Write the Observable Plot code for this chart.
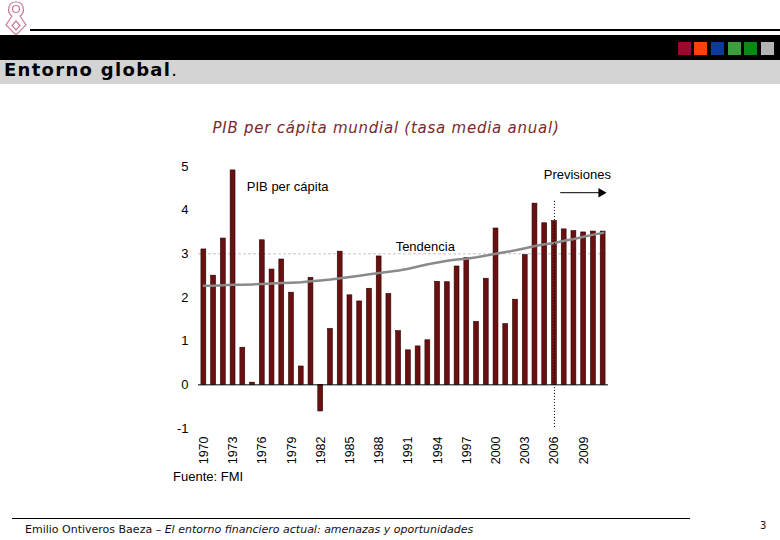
<!DOCTYPE html>
<html><head><meta charset="utf-8">
<script src="https://cdn.jsdelivr.net/npm/d3@7"></script>
<script src="https://cdn.jsdelivr.net/npm/@observablehq/plot@0.6"></script>
<style>
body{margin:0;width:780px;height:540px;position:relative;background:#fff;overflow:hidden;font-family:"Liberation Sans",Arial,sans-serif}
.abs{position:absolute}
.sq{position:absolute;top:42px;width:13px;height:13px}
</style></head><body>
<svg class="abs" style="left:3px;top:1px" width="26" height="36" viewBox="0 0 26 36">
  <g fill="none" stroke="#c97a95" stroke-width="1.2">
    <path d="M13 1 C4 1 4 12 9 15 L3 24 L13 34 L23 24 L17 15 C22 12 22 1 13 1 Z"/>
    <circle cx="13" cy="8" r="3.5"/>
    <path d="M13 20 L17 24.5 L13 29 L9 24.5 Z"/>
  </g>
</svg>
<div class="abs" style="left:30px;top:29px;width:750px;height:2px;background:#000"></div>
<div class="abs" style="left:0;top:35px;width:780px;height:25px;background:#000"></div>
<div class="sq" style="left:678px;background:#9b0a2c"></div>
<div class="sq" style="left:694px;background:#ff4108"></div>
<div class="sq" style="left:711px;background:#0b3b9c"></div>
<div class="sq" style="left:728px;background:#3c9e3c"></div>
<div class="sq" style="left:744px;background:#0a8a14"></div>
<div class="sq" style="left:761px;background:#b4b4b4"></div>
<div class="abs" style="left:0;top:60px;width:780px;height:24px;background:#d4d4d4"></div>
<div class="abs" style="left:4px;top:59px;font:bold 18px 'DejaVu Sans',Verdana,sans-serif;letter-spacing:1.3px;line-height:22px;color:#000">Entorno global<span style="font-weight:normal;letter-spacing:0">.</span></div>
<div class="abs" style="left:0;top:119px;width:772px;text-align:center;font:italic 15px 'DejaVu Sans',Verdana,sans-serif;letter-spacing:0.75px;line-height:18px;color:#7a2a2a">PIB per cápita mundial (tasa media anual)</div>
<div id="chart" class="abs" style="left:170px;top:150px"></div>
<div class="abs" style="left:173px;top:469px;font-size:13px;line-height:16px;color:#000">Fuente: FMI</div>
<div class="abs" style="left:12px;top:518px;width:678px;height:1px;background:#000"></div>
<div class="abs" style="left:25px;top:523px;font:11px 'DejaVu Sans',Verdana,sans-serif;line-height:14px;color:#111">Emilio Ontiveros Baeza – <i>El entorno financiero actual: amenazas y oportunidades</i></div>
<div class="abs" style="left:760px;top:519px;font:10px 'DejaVu Sans',Verdana,sans-serif;line-height:13px;color:#111">3</div>
<script>
const years = [1970,1971,1972,1973,1974,1975,1976,1977,1978,1979,
  1980,1981,1982,1983,1984,1985,1986,1987,1988,1989,
  1990,1991,1992,1993,1994,1995,1996,1997,1998,1999,
  2000,2001,2002,2003,2004,2005,2006,2007,2008,2009,
  2010,2011];
const gdpPerCapita = [3.10,2.50,3.35,4.91,0.85,0.05,3.31,2.64,2.87,2.11,
  0.42,2.45,-0.61,1.28,3.05,2.05,1.91,2.20,2.94,2.08,
  1.23,0.79,0.88,1.02,2.36,2.35,2.71,2.90,1.44,2.43,
  3.58,1.39,1.95,2.97,4.15,3.70,3.75,3.56,3.52,3.49,
  3.51,3.51];
const trend = [2.27,2.27,2.28,2.29,2.29,2.30,2.31,2.32,2.33,2.34,
  2.35,2.37,2.39,2.41,2.44,2.47,2.50,2.53,2.56,2.59,
  2.62,2.66,2.71,2.76,2.80,2.84,2.87,2.89,2.92,2.96,
  3.00,3.04,3.08,3.13,3.18,3.22,3.25,3.30,3.34,3.39,
  3.44,3.48];
const xTickLabels = [1970,1973,1976,1979,1982,1985,1988,1991,1994,1997,2000,2003,2006,2009];
const yTickLabels = [-1,0,1,2,3,4,5];
const forecastYear = [2006];
const seriesLabel = ["PIB per cápita"];
const trendLabel = ["Tendencia"];
const forecastLabel = ["Previsiones"];

const data = years.map((yr, i) => ({year: yr, gdp: gdpPerCapita[i], trend: trend[i]}));

const chart = Plot.plot({
  width: 450, height: 340,
  marginLeft: 28, marginRight: 12, marginTop: 16, marginBottom: 62,
  style: {fontFamily: "'Liberation Sans', Arial, sans-serif", fontSize: "12px", color: "#000", background: "transparent", overflow: "visible"},
  x: {type: "band", domain: years, paddingInner: 0.5, paddingOuter: 0.3},
  y: {domain: [-1, 5]},
  marks: [
    Plot.ruleY([3], {stroke: "#c4c4c4", strokeDasharray: "3,2"}),
    Plot.barY(data, {x: "year", y: "gdp", fill: "#6b1010", stroke: "#2a0000", strokeWidth: 0.6}),
    Plot.ruleY([0], {stroke: "#000", strokeWidth: 1}),
    Plot.line(data, {x: "year", y: "trend", stroke: "#8a8a8a", strokeWidth: 2.5}),
    Plot.ruleX(forecastYear, {x: d => d, y1: 4.2, y2: -1, stroke: "#000", strokeDasharray: "1,2", strokeWidth: 1}),
    Plot.axisY(yTickLabels, {tickSize: 0, tickPadding: 10, tickFormat: d => String(d), fontSize: 13, label: null}),
    Plot.axisX(xTickLabels, {tickSize: 0, tickRotate: -90, tickPadding: 8, tickFormat: d => String(d), fontSize: 12.5, label: null}),
    Plot.text(seriesLabel, {x: 1974, y: 4.54, textAnchor: "start", dx: 4, fontSize: 13}),
    Plot.text(trendLabel, {x: 1990, y: 3.17, textAnchor: "start", dx: -3, fontSize: 13}),
    Plot.text(forecastLabel, {x: 2005, y: 4.8, textAnchor: "start", dx: -1, fontSize: 13}),
    Plot.link([0], {x1: 2007, x2: 2011, y1: 4.4, y2: 4.4, dx: -4, stroke: "#000", strokeWidth: 1}),
    Plot.dot([0], {x: 2011, y: 4.4, symbol: "triangle", rotate: 90, r: 3.5, fill: "#000", stroke: "none", dx: -2})
  ]
});
document.getElementById("chart").appendChild(chart);
</script>
</body></html>
